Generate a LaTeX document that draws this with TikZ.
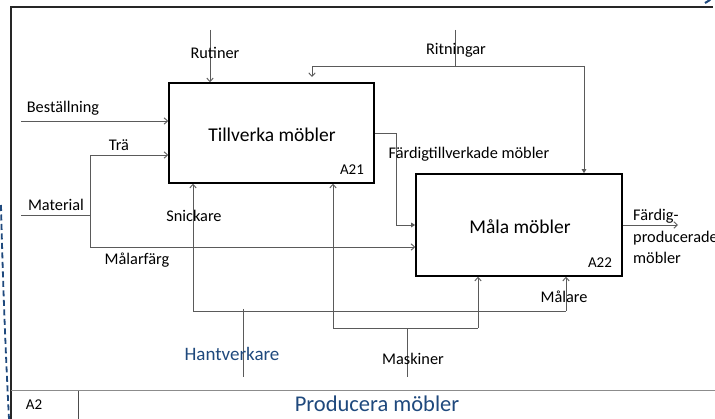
\documentclass[tikz,border=0pt]{standalone}
\usepackage{fontspec}
\setmainfont{Carlito}
\usetikzlibrary{arrows.meta}
\definecolor{linegray}{HTML}{5A5A5A}
\definecolor{titleblue}{HTML}{1F497D}
\tikzset{
  conn/.style={draw=linegray, line width=0.9pt},
  openhead/.style={-{Straight Barb[length=3.5pt,width=6.5pt]}},
  solidhead/.style={-{Triangle[length=4pt,width=4.5pt]}},
  procbox/.style={draw=black, line width=1.6pt, fill=white, inner sep=0pt,
    font=\fontsize{19.5}{23}\selectfont},
  lbl/.style={inner sep=0pt, font=\fontsize{16.3}{19}\selectfont},
  boxid/.style={inner sep=0pt, font=\fontsize{15}{18}\selectfont},
}
\begin{document}
\begin{tikzpicture}[x=1pt,y=-1pt]
\useasboundingbox (0,0) rectangle (715,419);
\clip (0,0) rectangle (715,419);
\fill[white] (0,0) rectangle (715,419);

% outer frame and title strip
\draw[line width=1.6pt, draw=black!85] (11,419) -- (11,7) -- (713,7);
\draw[line width=1pt, draw=black!45] (11,391) -- (715,391);
\draw[line width=1pt, draw=black!70] (78,391) -- (78,419);
\node[boxid] (nodeid) at (34,405) {A2};
\node[inner sep=0pt, text=titleblue, font=\fontsize{22.5}{26}\selectfont] (title) at (377,404) {Producera möbler};

% dashed edge of the neighbouring sheet
\draw[titleblue, line width=1.8pt, dash pattern=on 6pt off 3.5pt]
  (1,205) .. controls (3,290) and (6,360) .. (9,419);
\draw[titleblue, line width=2pt] (705,3) .. controls (708,1.5) and (710,0) .. (712,-2);

% activity boxes
\node[procbox, minimum width=205, minimum height=100] (a21) at (271.5,133) {};
\node[inner sep=0pt, font=\fontsize{19.5}{23}\selectfont] (a21t) at (272,135) {Tillverka möbler};
\node[boxid] (a21id) at (352,170) {A21};
\node[procbox, minimum width=206, minimum height=102] (a22) at (519,225) {};
\node[inner sep=0pt, font=\fontsize{19.5}{23}\selectfont] (a22t) at (520,227) {Måla möbler};
\node[boxid] (a22id) at (600,263) {A22};

% inputs
\coordinate (bestIn) at (21,121);
\draw[conn, openhead] (bestIn) -- (bestIn -| a21.west);
\node[lbl] (lbest) at (63,108) {Beställning};

\coordinate (matIn) at (21,215);
\coordinate (split) at (90,215);
\coordinate (traTurn) at (90,155);
\coordinate (farbTurn) at (90,247);
\draw[conn] (matIn) -- (split);
\draw[conn, openhead] (split) -- (traTurn) -- (traTurn -| a21.west);
\draw[conn, openhead] (split) -- (farbTurn) -- (farbTurn -| a22.west);
\node[lbl] (lmat) at (56,205) {Material};
\node[lbl] (ltra) at (119,145) {Trä};
\node[lbl] (lfarg) at (137,260) {Målarfärg};

% intermediate output
\coordinate (ftTop) at (396,133);
\coordinate (ftLow) at (396,225);
\draw[conn, solidhead] (ftTop -| a21.east) -- (ftTop) -- (ftLow) -- (ftLow -| a22.west);
\node[lbl] (lft) at (469,154) {Färdigtillverkade möbler};

% final output
\coordinate (outEnd) at (678,225);
\draw[conn, openhead] (outEnd -| a22.east) -- (outEnd);
\node[lbl, anchor=north west, align=left, font=\fontsize{16.3}{21.5}\selectfont] (lout) at (633,209)
  {Färdig-\\producerade\\möbler};

% controls
\coordinate (rutIn) at (210,30);
\draw[conn, openhead] (rutIn) -- (rutIn |- a21.north);
\node[lbl] (lrut) at (215,53) {Rutiner};

\coordinate (ritIn) at (455,30);
\coordinate (ritL) at (312,66);
\coordinate (ritR) at (584,66);
\coordinate (ritEnd) at (312,77);
\draw[conn] (ritIn) -- (ritIn |- ritL);
\draw[conn, openhead] (ritR) -- (ritL) -- (ritEnd);
\draw[conn, solidhead] (ritR) -- (ritR |- a22.north);
\node[lbl] (lrit) at (456,50) {Ritningar};

% mechanisms
\coordinate (snL) at (193,311);
\coordinate (snR) at (566,311);
\draw[conn] (snL) -- (snR);
\draw[conn, openhead] (snL) -- (snL |- a21.south);
\draw[conn, openhead] (snR) -- (snR |- a22.south);
\node[lbl] (lsn) at (194,216) {Snickare};
\node[lbl] (lmal) at (564,297) {Målare};

\coordinate (hvTop) at (243,309);
\coordinate (hvBot) at (243,377);
\draw[conn] (hvTop) -- (hvBot);
\node[inner sep=0pt, text=titleblue, font=\fontsize{19}{22}\selectfont] (lhv) at (232,354) {Hantverkare};

\coordinate (mkL) at (333,328);
\coordinate (mkR) at (478,328);
\coordinate (mkIn) at (407,377);
\draw[conn] (mkIn) -- (mkIn |- mkL);
\draw[conn] (mkL) -- (mkR);
\draw[conn, openhead] (mkL) -- (mkL |- a21.south);
\draw[conn, openhead] (mkR) -- (mkR |- a22.south);
\node[lbl] (lmk) at (413,359) {Maskiner};
\end{tikzpicture}
\end{document}
